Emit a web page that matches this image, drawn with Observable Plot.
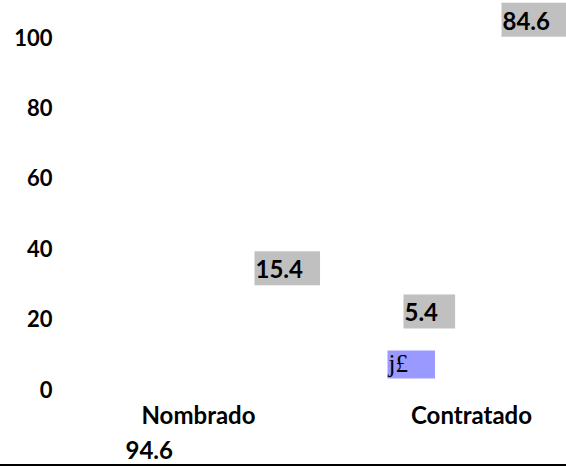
<!DOCTYPE html>
<html>
<head>
<meta charset="utf-8">
<script src="https://cdn.jsdelivr.net/npm/d3@7"></script>
<script src="https://cdn.jsdelivr.net/npm/@observablehq/plot@0.6"></script>
<style>
  html, body { margin: 0; padding: 0; background: #fff; }
  #chart { width: 566px; height: 466px; overflow: hidden; }
</style>
</head>
<body>
<div id="chart"></div>
<script>
// ---- data ----
const categories = ["Nombrado", "Contratado"];
const seriesFirst = [94.6, 15.4];   // first segment of each bar
const seriesSecond = [5.4, 84.6];   // second segment of each bar
const legendLabels = ["j£"];
const yTicks = [0, 20, 40, 60, 80, 100];

const rows = categories.flatMap((c, i) => [
  {category: c, series: "first", value: seriesFirst[i]},
  {category: c, series: "second", value: seriesSecond[i]}
]);
const legendRows = legendLabels.map(t => ({category: categories[1], text: t}));

const FONT = "Lato, 'Open Sans', sans-serif";

function valueLabel(cat, series, dx, dy, boxed) {
  return Plot.text(rows.filter(d => d.category === cat && d.series === series), {
    x: "category", y: "value", text: d => d.value.toFixed(1),
    dx, dy, textAnchor: "start", lineAnchor: "bottom",
    fontSize: 24, fontWeight: "bold", fontFamily: FONT, fill: "#000",
    className: boxed ? "boxed-gray" : "plain-label"
  });
}

const plot = Plot.plot({
  width: 566,
  height: 466,
  marginTop: 38,
  marginBottom: 76,
  marginLeft: 0,
  marginRight: 0,
  style: {fontFamily: FONT, color: "#000", background: "#fff"},
  x: {type: "point", domain: categories, padding: 0, insetLeft: 198, insetRight: 95},
  y: {domain: [0, 100]},
  marks: [
    Plot.axisY({ticks: yTicks, tickSize: 0, tickPadding: 0, dx: 52, textAnchor: "end",
      fontSize: 22, fontWeight: "bold", fontFamily: FONT, fill: "#000", label: null}),
    Plot.axisX({tickSize: 0, tickPadding: 16, fontSize: 24, fontWeight: "bold",
      fontFamily: FONT, fill: "#000", label: null}),
    valueLabel("Nombrado", "first", -73, 401, false),
    valueLabel("Nombrado", "second", 206, -50, true),
    valueLabel("Contratado", "first", -216, -58, true),
    valueLabel("Contratado", "second", 31, -63, true),
    Plot.text(legendRows, {
      x: "category", y: () => 0, text: "text", dx: -83, dy: -19,
      textAnchor: "start", lineAnchor: "bottom", fontSize: 25,
      fontFamily: "'Liberation Serif', 'DejaVu Serif', serif", fill: "#000",
      className: "boxed-blue"
    }),
    Plot.ruleY([0], {dy: 75, stroke: "#000", strokeWidth: 3})
  ]
});

document.getElementById("chart").appendChild(plot);

// label backgrounds, sized from the rendered text
function addBoxes(cls, fill, top, bottom, padLeft, padRight) {
  plot.querySelectorAll("g." + cls + " text").forEach(t => {
    const b = t.getBBox();
    const r = document.createElementNS("http://www.w3.org/2000/svg", "rect");
    r.setAttribute("x", b.x - padLeft);
    r.setAttribute("y", top);
    r.setAttribute("width", b.width + padLeft + padRight);
    r.setAttribute("height", bottom - top);
    r.setAttribute("fill", fill);
    const tr = t.getAttribute("transform");
    if (tr) r.setAttribute("transform", tr);
    t.parentNode.insertBefore(r, t);
  });
}
addBoxes("boxed-gray", "#c0c0c0", -27, 7, 1, 17);
addBoxes("boxed-blue", "#9999ff", -21, 7, 0, 27);
</script>
</body>
</html>
